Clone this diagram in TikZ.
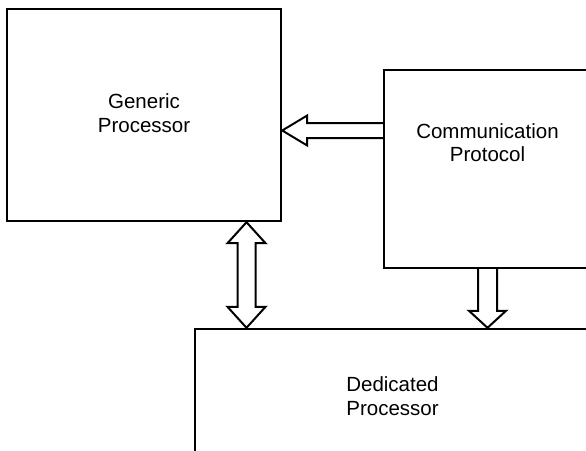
\documentclass[tikz,border=0pt]{standalone}
\usepackage{fontspec}
\setmainfont{Liberation Sans}
\usetikzlibrary{calc}

\begin{document}
\begin{tikzpicture}[x=1pt, y=-1pt,
    unitbox/.style={draw, line width=2.4pt, inner sep=0pt},
    boxtext/.style={align=center, inner sep=0pt, font=\fontsize{20.5}{23.5}\selectfont},
    % hollow block arrow: shaft half-width, head half-width, head length
    blockarrow/.style n args={3}{draw, line width=2pt, fill=white, to path={
      ($(\tikztostart)!#1!90:(\tikztotarget)$)
      -- ($(\tikztotarget)!#3!(\tikztostart)!#1!-90:(\tikztostart)$)
      -- ($(\tikztotarget)!#3!(\tikztostart)!#2!-90:(\tikztostart)$)
      -- (\tikztotarget)
      -- ($(\tikztotarget)!#3!(\tikztostart)!#2!90:(\tikztostart)$)
      -- ($(\tikztotarget)!#3!(\tikztostart)!#1!90:(\tikztostart)$)
      -- ($(\tikztostart)!#1!-90:(\tikztotarget)$)}},
    dblockarrow/.style n args={3}{draw, line width=2pt, fill=white, to path={
      ($(\tikztostart)!#3!(\tikztotarget)!#1!90:(\tikztotarget)$)
      -- ($(\tikztotarget)!#3!(\tikztostart)!#1!-90:(\tikztostart)$)
      -- ($(\tikztotarget)!#3!(\tikztostart)!#2!-90:(\tikztostart)$)
      -- (\tikztotarget)
      -- ($(\tikztotarget)!#3!(\tikztostart)!#2!90:(\tikztostart)$)
      -- ($(\tikztotarget)!#3!(\tikztostart)!#1!90:(\tikztostart)$)
      -- ($(\tikztostart)!#3!(\tikztotarget)!#1!-90:(\tikztotarget)$)
      -- ($(\tikztostart)!#3!(\tikztotarget)!#2!-90:(\tikztotarget)$)
      -- (\tikztostart)
      -- ($(\tikztostart)!#3!(\tikztotarget)!#2!90:(\tikztotarget)$)
      -- cycle}}]

  \useasboundingbox (0,0) rectangle (586,450);
  \clip (0,0) rectangle (586,450);

  % --- Blocks ---
  \node[unitbox, minimum width=274pt, minimum height=212pt] (generic) at (144,115) {};
  \node[boxtext] (genericlabel) at (144,113) {Generic\\Processor};
  \node[unitbox, minimum width=207pt, minimum height=198pt] (comm) at (487.5,169) {};
  \node[boxtext] (commlabel) at (487.5,142.5) {Communication\\Protocol};
  \node[unitbox, minimum width=394pt, minimum height=136pt] (dedicated) at (392,397) {};
  \node[boxtext] (dedicatedlabel) at (392.5,396) {Dedicated\\Processor};

  % --- Arrow end points ---
  \coordinate (commout) at ([yshift=38.5pt]comm.west);
  \coordinate (genin) at (generic.east |- commout);
  \coordinate (genbot) at ([xshift=102.5pt]generic.south);
  \coordinate (dedtop) at (genbot |- dedicated.north);
  \coordinate (commbot) at (comm.south);
  \coordinate (dedin) at (commbot |- dedicated.north);

  % --- Connections ---
  \draw[blockarrow={7.5pt}{15pt}{25pt}] (commout) to (genin);
  \draw[dblockarrow={9pt}{19pt}{21pt}] (genbot) to (dedtop);
  \draw[blockarrow={9.5pt}{18.5pt}{17pt}] (commbot) to (dedin);
\end{tikzpicture}
\end{document}
